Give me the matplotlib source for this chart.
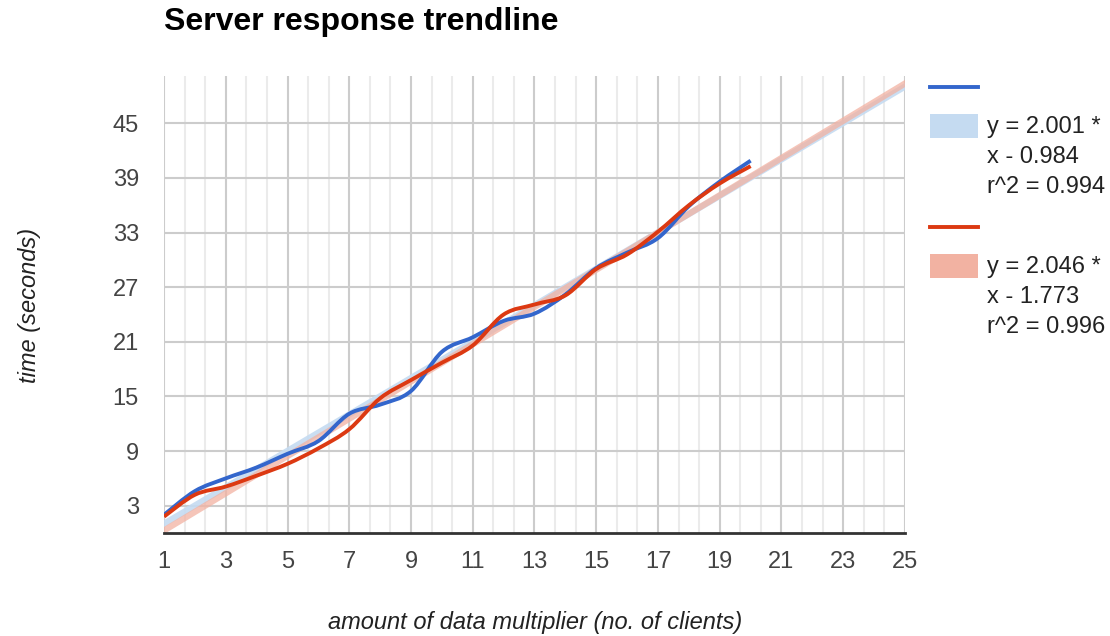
import numpy as np
import matplotlib
matplotlib.use("Agg")
import matplotlib.pyplot as plt
from matplotlib.path import Path
from matplotlib.patches import PathPatch, Rectangle
from matplotlib.lines import Line2D
from matplotlib.ticker import MultipleLocator

plt.rcParams['font.family'] = ['Liberation Sans', 'DejaVu Sans']

# --------------------------------
# Data
# --------------------------------
clients = list(range(1, 21))
blue_times = [2.0, 4.6, 6.0, 7.2, 8.7, 10.1, 13.1, 14.1, 15.6, 19.9,
              21.5, 23.3, 24.1, 26.2, 29.1, 30.8, 32.4, 35.9, 38.6, 40.9]
red_times = [1.8, 4.2, 5.1, 6.3, 7.6, 9.3, 11.4, 14.8, 16.8, 18.7,
             20.6, 24.0, 25.1, 26.1, 29.0, 30.6, 33.1, 36.0, 38.4, 40.3]

blue_slope, blue_icept, blue_r2 = 2.001, -0.984, 0.994
red_slope, red_icept, red_r2 = 2.046, -1.773, 0.996

x_ticks = list(range(1, 26, 2))
y_ticks = list(range(3, 50, 6))

BLUE = '#3366cc'
RED = '#dc3912'
BLUE_TREND = '#c5dbf1'
RED_TREND = '#f2b2a2'
TEXT = '#444444'


# --------------------------------
# Smooth curve (like curveType: 'function')
# --------------------------------
def smooth_path(xs, ys):
    pts = np.column_stack([xs, ys]).astype(float)
    n = len(pts)
    verts = [pts[0]]
    codes = [Path.MOVETO]
    for i in range(n - 1):
        p0 = pts[max(i - 1, 0)]
        p1 = pts[i]
        p2 = pts[i + 1]
        p3 = pts[min(i + 2, n - 1)]
        c1 = p1 + (p2 - p0) / 6.0
        c2 = p2 - (p3 - p1) / 6.0
        verts += [c1, c2, p2]
        codes += [Path.CURVE4] * 3
    return Path(verts, codes)


fig = plt.figure(figsize=(11.1, 6.36), dpi=100)
ax = fig.add_axes([164 / 1110, 103 / 636, 741 / 1110, 457 / 636])

ax.set_xlim(1, 25)
ax.set_ylim(0, 50.2)

# grid
ax.set_xticks(x_ticks)
ax.set_yticks(y_ticks)
ax.xaxis.set_minor_locator(MultipleLocator(2 / 3, offset=1))
ax.grid(which='major', color='#cccccc', linewidth=1.5)
ax.grid(which='minor', axis='x', color='#ebebeb', linewidth=1.5)
ax.set_axisbelow(True)

for side in ['top', 'right', 'left']:
    ax.spines[side].set_visible(False)
ax.spines['bottom'].set_color('#333333')
ax.spines['bottom'].set_linewidth(2)
ax.spines['bottom'].set_zorder(5)

ax.tick_params(which='both', length=0)
ax.tick_params(axis='x', pad=13, labelsize=17, labelcolor=TEXT)
ax.tick_params(axis='y', pad=18, labelsize=17, labelcolor=TEXT)

# trendlines
ax.axline((0, blue_icept), slope=blue_slope, color=BLUE_TREND, linewidth=4.5, alpha=0.9, zorder=2)
ax.axline((0, red_icept), slope=red_slope, color=RED_TREND, linewidth=4.5, alpha=0.75, zorder=2)

# series
for ys, col in [(blue_times, BLUE), (red_times, RED)]:
    patch = PathPatch(smooth_path(clients, ys), facecolor='none', edgecolor=col,
                      linewidth=2.8, capstyle='butt', zorder=3)
    ax.add_patch(patch)

# titles
fig.text(164 / 1110, 1 - 22 / 636, 'Server response trendline', fontsize=23,
         fontweight='bold', color='black', ha='left', va='center')
fig.text(535 / 1110, 1 - 623 / 636, 'amount of data multiplier (no. of clients)',
         fontsize=17, style='italic', color='#222222', ha='center', va='center')
fig.text(30 / 1110, 1 - 305 / 636, 'time (seconds)', fontsize=17, style='italic',
         color='#222222', ha='center', va='center', rotation=90)


# legend (figure coordinates)
def px(x, y):
    return x / 1110, 1 - y / 636


def legend_entry(top, color, swatch, slope, icept, r2):
    x0, y0 = px(930, top)
    x1, _ = px(978, top)
    fig.add_artist(Line2D([x0, x1], [y0, y0], color=color, linewidth=2.8))
    sx, sy = px(930, top + 51)
    fig.add_artist(Rectangle((sx, sy), 48 / 1110, 24 / 636, facecolor=swatch,
                             edgecolor='none', transform=fig.transFigure))
    sign = '-' if icept < 0 else '+'
    lines = [f'y = {slope:.3f} *', f'x {sign} {abs(icept):.3f}', f'r^2 = {r2:.3f}']
    for k, s in enumerate(lines):
        tx, ty = px(987, top + 40 + k * 30)
        fig.text(tx, ty, s, fontsize=17, color='#222222', ha='left', va='center')


legend_entry(87, BLUE, BLUE_TREND, blue_slope, blue_icept, blue_r2)
legend_entry(227, RED, RED_TREND, red_slope, red_icept, red_r2)

fig.savefig('out.png', dpi=100, facecolor='white')
